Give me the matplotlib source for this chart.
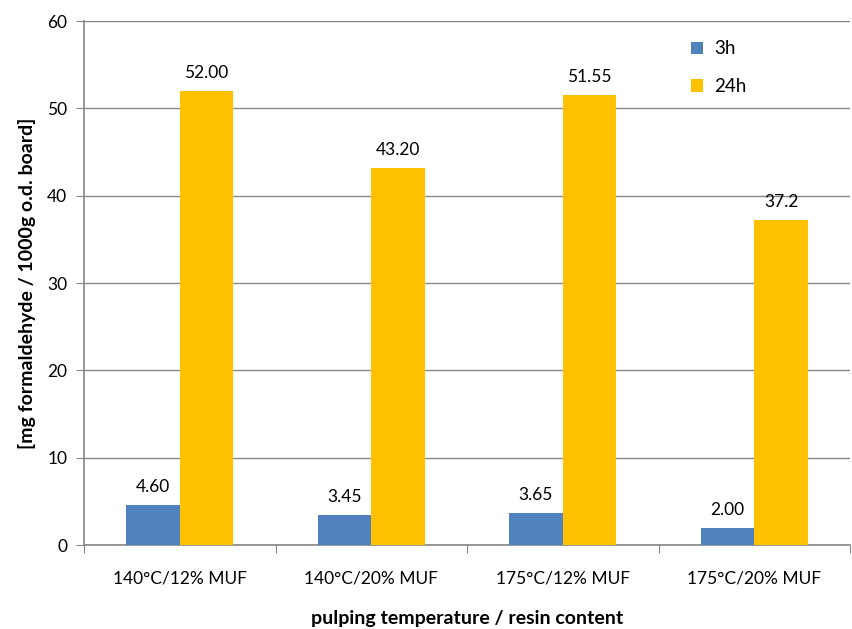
import numpy as np
import matplotlib
matplotlib.use("Agg")
import matplotlib.pyplot as plt

categories = ["140°C/12% MUF", "140°C/20% MUF", "175°C/12% MUF", "175°C/20% MUF"]
series_names = ["3h", "24h"]
values_3h = [4.60, 3.45, 3.65, 2.00]
values_24h = [52.00, 43.20, 51.55, 37.2]
labels_3h = ["4.60", "3.45", "3.65", "2.00"]
labels_24h = ["52.00", "43.20", "51.55", "37.2"]

plt.rcParams['font.family'] = ['Lato', 'DejaVu Sans']
grey = '#868686'

fig = plt.figure(figsize=(8.52, 6.29), dpi=100)
ax = fig.add_axes([84/852, 1 - 545/629, (850-84)/852, (545-21)/629])

x = np.arange(len(categories))
width = 0.28
b1 = ax.bar(x - width/2, values_3h, width, color='#4F81BD', label=series_names[0], zorder=3)
b2 = ax.bar(x + width/2, values_24h, width, color='#FFC000', label=series_names[1], zorder=3)

for rects, labs in [(b1, labels_3h), (b2, labels_24h)]:
    for rect, lab in zip(rects, labs):
        ax.annotate(lab, xy=(rect.get_x() + rect.get_width()/2, rect.get_height()),
                    xytext=(0, 7), textcoords="offset points",
                    ha='center', va='bottom', fontsize=12.5)

ax.set_ylim(0, 60)
ax.set_xlim(-0.5, 3.5)
ax.set_yticks(np.arange(0, 61, 10))
ax.yaxis.grid(True, color=grey, linewidth=1, zorder=0)
ax.set_axisbelow(True)

# boundaries get tick marks, centers get labels
ax.set_xticks(np.arange(-0.5, 4, 1))
ax.set_xticklabels([])
ax.set_xticks(x, minor=True)
ax.set_xticklabels(categories, minor=True, fontsize=12.5)
ax.tick_params(axis='x', which='major', direction='out', length=6, color=grey)
ax.tick_params(axis='x', which='minor', length=0, pad=18)
ax.tick_params(axis='y', direction='out', length=6, color=grey, labelsize=12.5, pad=6)

for s in ['top', 'right']:
    ax.spines[s].set_visible(False)
for s in ['left', 'bottom']:
    ax.spines[s].set_color(grey)
    ax.spines[s].set_linewidth(1.2)

ax.set_ylabel('[mg formaldehyde / 1000g o.d. board]', fontsize=14, fontweight='bold', labelpad=8)
ax.set_xlabel('pulping temperature / resin content', fontsize=14, fontweight='bold', labelpad=17)

ax.legend(loc='upper left', bbox_to_anchor=(0.77, 0.995), frameon=False, fontsize=13.5,
          handlelength=0.65, handleheight=0.65, labelspacing=1.1, handletextpad=0.6)

fig.savefig('out.png', dpi=100)
